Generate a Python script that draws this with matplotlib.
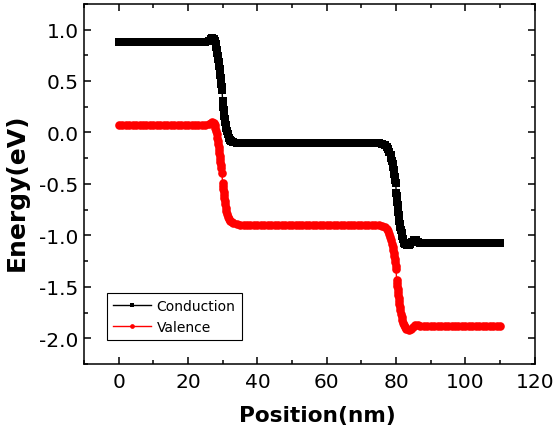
import matplotlib
matplotlib.use("Agg")
import matplotlib.pyplot as plt
from matplotlib.ticker import MultipleLocator

plt.rcParams['font.family'] = ['DejaVu Sans']
plt.rcParams['axes.unicode_minus'] = False

# conduction band edge (position nm, energy eV)
cond_pts = [
    (0, 0.88), (1, 0.88), (2, 0.88), (3, 0.88), (4, 0.88), (5, 0.88), (6, 0.88),
    (7, 0.88), (8, 0.88), (9, 0.88), (10, 0.88), (11, 0.88), (12, 0.88),
    (13, 0.88), (14, 0.88), (15, 0.88), (16, 0.88), (17, 0.88), (18, 0.88),
    (19, 0.88), (20, 0.88), (21, 0.88), (22, 0.88), (23, 0.88), (24, 0.88),
    (25, 0.88), (26, 0.89), (26.5, 0.91), (27, 0.92), (27.5, 0.91), (27.8, 0.89),
    (28.0, 0.86), (28.15, 0.83), (28.3, 0.80), (28.45, 0.77), (28.6, 0.74),
    (28.75, 0.71), (28.9, 0.68), (29.0, 0.65), (29.1, 0.62), (29.2, 0.59),
    (29.3, 0.56), (29.4, 0.53), (29.5, 0.50), (29.6, 0.47), (29.7, 0.44),
    (29.8, 0.41), (29.95, 0.31), (30.05, 0.28), (30.15, 0.25), (30.25, 0.22),
    (30.35, 0.19), (30.45, 0.16), (30.55, 0.13), (30.7, 0.10), (30.85, 0.07),
    (31.0, 0.04), (31.2, 0.01), (31.4, -0.02), (31.7, -0.05), (32.0, -0.07),
    (32.5, -0.08), (33, -0.09), (34, -0.10), (35, -0.10), (36, -0.10),
    (37, -0.10), (38, -0.10), (39, -0.10), (40, -0.10), (41, -0.10), (42, -0.10),
    (43, -0.10), (44, -0.10), (45, -0.10), (46, -0.10), (47, -0.10), (48, -0.10),
    (49, -0.10), (50, -0.10), (51, -0.10), (52, -0.10), (53, -0.10), (54, -0.10),
    (55, -0.10), (56, -0.10), (57, -0.10), (58, -0.10), (59, -0.10), (60, -0.10),
    (61, -0.10), (62, -0.10), (63, -0.10), (64, -0.10), (65, -0.10), (66, -0.10),
    (67, -0.10), (68, -0.10), (69, -0.10), (70, -0.10), (71, -0.10), (72, -0.10),
    (73, -0.10), (74, -0.10), (75, -0.10), (76, -0.11), (76.7, -0.12),
    (77.3, -0.14), (77.8, -0.16), (78.1, -0.19), (78.4, -0.22), (78.65, -0.25),
    (78.85, -0.28), (79.0, -0.31), (79.15, -0.34), (79.3, -0.37), (79.45, -0.40),
    (79.6, -0.43), (79.75, -0.46), (79.9, -0.49), (80.05, -0.59), (80.15, -0.62),
    (80.25, -0.65), (80.35, -0.68), (80.45, -0.71), (80.55, -0.74), (80.65, -0.77),
    (80.75, -0.80), (80.85, -0.83), (80.95, -0.86), (81.1, -0.89), (81.25, -0.92),
    (81.4, -0.95), (81.6, -0.98), (81.8, -1.01), (82.0, -1.04), (82.3, -1.07),
    (82.6, -1.08), (83.1, -1.09), (83.6, -1.09), (84.1, -1.08), (84.6, -1.06),
    (85.2, -1.05), (85.8, -1.05), (86.4, -1.06), (87, -1.07), (88, -1.07),
    (89, -1.07), (90, -1.07), (91, -1.07), (92, -1.07), (93, -1.07), (94, -1.07),
    (95, -1.07), (96, -1.07), (97, -1.07), (98, -1.07), (99, -1.07), (100, -1.07),
    (101, -1.07), (102, -1.07), (103, -1.07), (104, -1.07), (105, -1.07),
    (106, -1.07), (107, -1.07), (108, -1.07), (109, -1.07), (110, -1.07),
]

# valence band edge
val_pts = [
    (0, 0.07), (1, 0.07), (2, 0.07), (3, 0.07), (4, 0.07), (5, 0.07), (6, 0.07),
    (7, 0.07), (8, 0.07), (9, 0.07), (10, 0.07), (11, 0.07), (12, 0.07),
    (13, 0.07), (14, 0.07), (15, 0.07), (16, 0.07), (17, 0.07), (18, 0.07),
    (19, 0.07), (20, 0.07), (21, 0.07), (22, 0.07), (23, 0.07), (24, 0.07),
    (25, 0.07), (26, 0.08), (26.5, 0.09), (27, 0.10), (27.5, 0.09), (27.7, 0.07),
    (27.9, 0.04), (28.05, 0.01), (28.2, -0.02), (28.35, -0.05), (28.5, -0.08),
    (28.65, -0.11), (28.8, -0.14), (28.9, -0.17), (29.0, -0.20), (29.1, -0.23),
    (29.2, -0.26), (29.3, -0.29), (29.45, -0.32), (29.6, -0.35), (29.75, -0.39),
    (29.95, -0.49), (30.05, -0.52), (30.15, -0.55), (30.25, -0.58), (30.35, -0.61),
    (30.45, -0.64), (30.6, -0.67), (30.75, -0.70), (30.9, -0.73), (31.05, -0.76),
    (31.25, -0.79), (31.5, -0.82), (31.8, -0.84), (32.2, -0.86), (32.6, -0.87),
    (33, -0.88), (34, -0.89), (35, -0.90), (36, -0.90), (37, -0.90), (38, -0.90),
    (39, -0.90), (40, -0.90), (41, -0.90), (42, -0.90), (43, -0.90), (44, -0.90),
    (45, -0.90), (46, -0.90), (47, -0.90), (48, -0.90), (49, -0.90), (50, -0.90),
    (51, -0.90), (52, -0.90), (53, -0.90), (54, -0.90), (55, -0.90), (56, -0.90),
    (57, -0.90), (58, -0.90), (59, -0.90), (60, -0.90), (61, -0.90), (62, -0.90),
    (63, -0.90), (64, -0.90), (65, -0.90), (66, -0.90), (67, -0.90), (68, -0.90),
    (69, -0.90), (70, -0.90), (71, -0.90), (72, -0.90), (73, -0.90), (74, -0.90),
    (75, -0.90), (76, -0.91), (76.8, -0.92), (77.4, -0.94), (77.8, -0.96),
    (78.1, -0.99), (78.35, -1.02), (78.6, -1.05), (78.8, -1.08), (79.0, -1.11),
    (79.15, -1.14), (79.3, -1.17), (79.45, -1.20), (79.6, -1.23), (79.75, -1.26),
    (79.9, -1.30), (80.0, -1.33), (80.15, -1.43), (80.25, -1.46), (80.35, -1.49),
    (80.45, -1.52), (80.55, -1.55), (80.65, -1.58), (80.75, -1.61), (80.85, -1.64),
    (80.95, -1.67), (81.1, -1.70), (81.25, -1.73), (81.4, -1.76), (81.6, -1.79),
    (81.8, -1.82), (82.05, -1.85), (82.3, -1.87), (82.6, -1.89), (83.0, -1.91),
    (83.6, -1.92), (84.2, -1.91), (84.8, -1.89), (85.5, -1.87), (86.2, -1.87),
    (87, -1.88), (88, -1.88), (89, -1.88), (90, -1.88), (91, -1.88), (92, -1.88),
    (93, -1.88), (94, -1.88), (95, -1.88), (96, -1.88), (97, -1.88), (98, -1.88),
    (99, -1.88), (100, -1.88), (101, -1.88), (102, -1.88), (103, -1.88),
    (104, -1.88), (105, -1.88), (106, -1.88), (107, -1.88), (108, -1.88),
    (109, -1.88), (110, -1.88),
]

cond_x = [p[0] for p in cond_pts]
cond_e = [p[1] for p in cond_pts]
val_x = [p[0] for p in val_pts]
val_e = [p[1] for p in val_pts]

fig = plt.figure(figsize=(5.57, 4.35), dpi=100)
ax = fig.add_axes([0.151, 0.161, 0.809, 0.828])

ax.plot(cond_x, cond_e, color='black', marker='s', markersize=5.8, lw=1,
        markeredgewidth=0, label='Conduction')
ax.plot(val_x, val_e, color='red', marker='o', markersize=6.2, lw=1,
        markeredgewidth=0, label='Valence')

ax.set_xlim(-10, 120)
ax.set_ylim(-2.25, 1.25)
ax.xaxis.set_major_locator(MultipleLocator(20))
ax.xaxis.set_minor_locator(MultipleLocator(10))
ax.yaxis.set_major_locator(MultipleLocator(0.5))
ax.yaxis.set_minor_locator(MultipleLocator(0.25))
ax.tick_params(which='both', direction='in', top=True, right=True,
               labelsize=14.5, width=1.1)
ax.tick_params(which='major', length=5, pad=6)
ax.tick_params(which='minor', length=3)
ax.tick_params(axis='y', pad=4)
for s in ax.spines.values():
    s.set_linewidth(1.1)

ax.set_xlabel('Position(nm)', fontsize=15.6, fontweight='bold')
ax.set_ylabel('Energy(eV)', fontsize=18, fontweight='bold')
ax.xaxis.set_label_coords(0.518, -0.115)
ax.yaxis.set_label_coords(-0.123, 0.479)

leg = ax.legend(loc='lower left', bbox_to_anchor=(0.051, 0.067), fontsize=10,
                fancybox=False, edgecolor='black', framealpha=1, markerscale=0.55,
                handlelength=2.7, borderpad=0.45, labelspacing=0.45,
                handletextpad=0.4, borderaxespad=0)
leg.get_frame().set_linewidth(0.8)

fig.savefig('out.png', dpi=100)
